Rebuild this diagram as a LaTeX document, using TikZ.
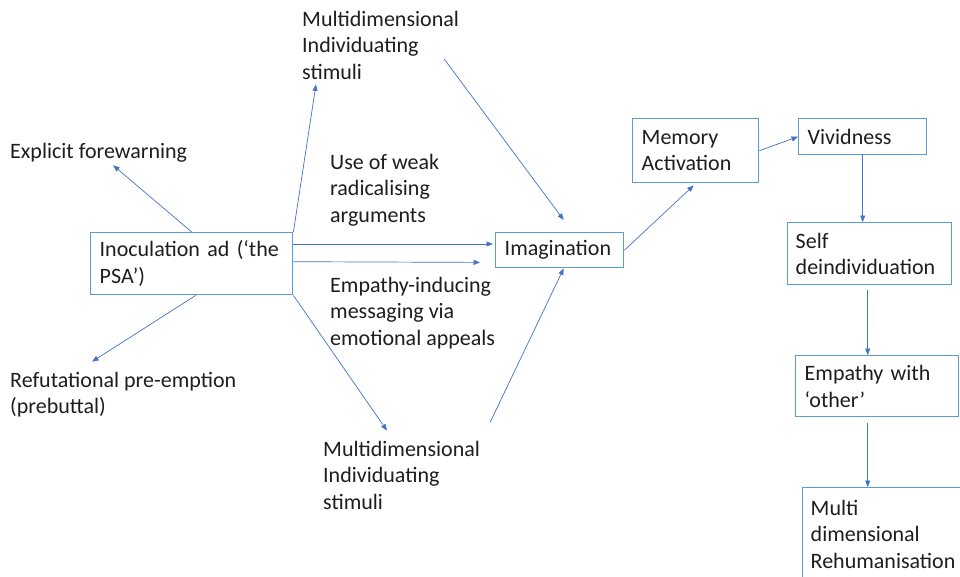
\documentclass[tikz,border=0pt]{standalone}
\usepackage{fontspec}
\setmainfont{Carlito}
\usetikzlibrary{arrows.meta,calc}
\definecolor{boxblue}{RGB}{91,155,213}
\definecolor{arrblue}{RGB}{68,114,196}
\definecolor{txt}{RGB}{30,30,30}
\newcommand{\diagfont}{\fontsize{22}{26.5}\selectfont}
\hyphenpenalty=10000
\exhyphenpenalty=10000
\begin{document}
\begin{tikzpicture}[x=1pt,y=-1pt,
  every node/.style={font=\diagfont, text=txt},
  box/.style={draw=boxblue, line width=1.4pt, anchor=north west, align=left, inner xsep=9pt, inner ysep=0pt, fill=white},
  lbl/.style={anchor=west, align=left, inner sep=0pt},
  arr/.style={draw=arrblue, line width=0.7pt, -{Triangle[length=6.5pt,width=5pt]}}]
\fill[white] (0,0) rectangle (960,576);
\useasboundingbox (0,0) rectangle (960,576);
% boxes
\node[box, text width=184pt, minimum height=62pt] (ino) at (90,232) {Inoculation ad (‘the\\PSA’)};
\node[box, text width=110pt, minimum height=35pt] (imag) at (495,232) {Imagination};
\node[box, text width=108pt, minimum height=64pt] (mem) at (632,118) {Memory\\Activation};
\node[box, text width=110pt, minimum height=36pt] (viv) at (798,118) {Vividness};
\node[box, text width=148pt, minimum height=62pt, inner xsep=8pt] (self) at (787,222) {Self\\deindividuation};
\node[box, text width=145pt, minimum height=61pt] (emp) at (795,355) {Empathy with\\‘other’};
\node[box, text width=148pt, minimum height=93pt, inner xsep=8pt] (multi) at (802,487) {Multi\\dimensional\\Rehumanisation};
% labels
\node[lbl] (topstim) at (302,45) {Multidimensional\\Individuating\\stimuli};
\node[lbl] (expl) at (10,153) {Explicit forewarning};
\node[lbl] (weak) at (330,190) {Use of weak\\radicalising\\arguments};
\node[lbl] (empind) at (330,313) {Empathy-inducing\\messaging via\\emotional appeals};
\node[lbl] (refut) at (10,394.5) {Refutational pre-emption\\(prebuttal)};
\node[lbl] (botstim) at (323,475) {Multidimensional\\Individuating\\stimuli};
% connectors
\draw[arr, shorten >=4pt] (ino.north) -- (expl);
\draw[arr] ($(ino.south)+(4,0)$) -- ($(refut.north west)+(82,-10)$);
\draw[arr] (ino.north east) -- ($(topstim.south west)+(14,5)$);
\draw[arr] ($(topstim.east)+(-15,14)$) -- ($(imag.north)+(4,-12)$);
\draw[arr] ($(ino.north east)+(0,12)$) -- ($(imag.north west)+(-2,12)$);
\draw[arr] ($(ino.east)+(0,-2)$) -- ($(imag.south west)+(-15,-6)$);
\draw[arr] (ino.south east) -- ($(botstim.north west)+(64,-10)$);
\draw[arr] ($(botstim.north west)+(167,-18)$) -- ($(imag.south)+(4,0)$);
\draw[arr] (imag.east) -- ($(mem.south)+(-2,2)$);
\draw[arr] (mem.east) -- (viv.west);
\draw[arr] (viv.south) -- (viv.south |- self.north);
\coordinate (s1) at ($(self.south)+(-2,5)$);
\draw[arr] (s1) -- (s1 |- emp.north);
\coordinate (e1) at ($(emp.south)+(-9.5,6)$);
\draw[arr] (e1) -- (e1 |- multi.north);
\end{tikzpicture}
\end{document}
